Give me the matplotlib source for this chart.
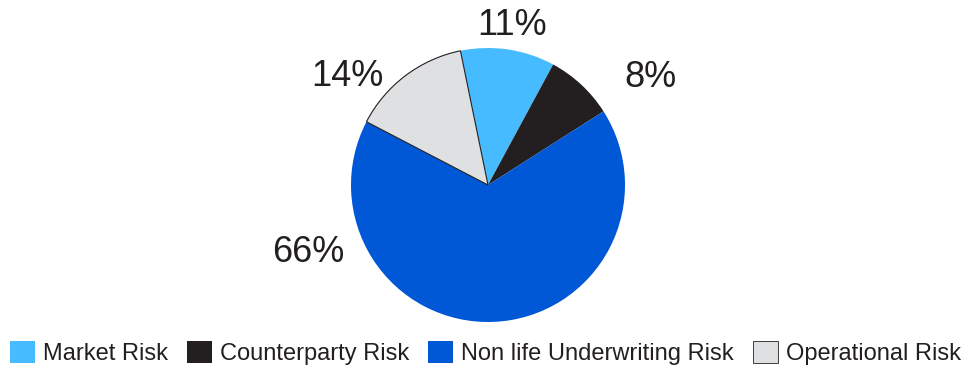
import matplotlib
matplotlib.use("Agg")
import matplotlib.pyplot as plt
from matplotlib.patches import Patch
import numpy as np

# Risk capital breakdown (percent)
categories = ["Market Risk", "Counterparty Risk", "Non life Underwriting Risk", "Operational Risk"]
values = [11, 8, 66, 14]
pct_labels = ["11%", "8%", "66%", "14%"]
colors = ["#47BBFF", "#231F20", "#0058D6", "#DFE0E2"]

TEXT = "#231F20"
plt.rcParams["font.family"] = ["Liberation Sans", "DejaVu Sans"]

W, H = 963, 369
fig = plt.figure(figsize=(W / 100, H / 100), dpi=100)
fig.patch.set_facecolor("white")

# Square axes holding the pie (radius ~137 px, centred at x=488, y=185 from top)
cx, cy, r = 488, 185, 137
ax = fig.add_axes([(cx - r) / W, (H - cy - r) / H, 2 * r / W, 2 * r / H])

wedges, _ = ax.pie(values, colors=colors, startangle=101.6, counterclock=False,
                   radius=1.0, wedgeprops=dict(linewidth=0))
ax.set_xlim(-1, 1)
ax.set_ylim(-1, 1)
ax.axis("off")

# Outline for the pale wedge so it stands out on white
wedges[3].set_edgecolor(TEXT)
wedges[3].set_linewidth(0.8)

# Percentage labels placed outside their wedges
# (position along each wedge, clockwise from its leading edge, and radial distance)
label_frac = [0.5, 0.97, 0.8, 0.2]
label_rad = [1.18, 1.42, 1.40, 1.30]
for w, lab, f, rr in zip(wedges, pct_labels, label_frac, label_rad):
    ang = np.deg2rad(w.theta2 - f * (w.theta2 - w.theta1))
    ax.text(rr * np.cos(ang), rr * np.sin(ang), lab, ha="center", va="center",
            fontsize=26, color=TEXT, clip_on=False)

handles = [Patch(facecolor=c, edgecolor=(TEXT if i == 3 else c), linewidth=(0.6 if i == 3 else 0))
           for i, c in enumerate(colors)]
leg = fig.legend(handles, categories, ncol=4, loc="lower left",
                 bbox_to_anchor=(10 / W, 4 / H), frameon=False, fontsize=17,
                 handlelength=1.05, handleheight=1.05, handletextpad=0.35,
                 columnspacing=0.8, borderpad=0, borderaxespad=0)
for t in leg.get_texts():
    t.set_color(TEXT)

fig.savefig("out.png", dpi=100, facecolor="white")
